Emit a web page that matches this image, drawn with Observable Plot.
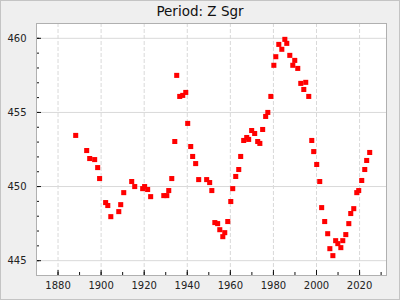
<!DOCTYPE html>
<html><head><meta charset="utf-8">
<script src="https://cdn.jsdelivr.net/npm/d3@7"></script>
<script src="https://cdn.jsdelivr.net/npm/@observablehq/plot@0.6"></script>
<style>
body{margin:0;background:#fff}
#wrap{position:relative;width:400px;height:300px;background:#efefef;font-family:"DejaVu Sans",sans-serif;overflow:hidden}
#wrap::after{content:"";position:absolute;left:0;top:0;right:0;bottom:0;border:1px solid #c4c4c4;pointer-events:none}
#title{position:absolute;top:0;left:0;width:400px;text-align:center;font-size:13.5px;line-height:20px;padding-top:1px;color:#111;z-index:2}
#wrap svg{position:absolute;top:0;left:0}
</style></head><body>
<div id="wrap"><div id="title">Period: Z Sgr</div></div>
<script>
const years = [1888.2,1893.3,1894.7,1897.0,1898.4,1899.3,1902.1,1903.1,1904.5,1908.2,1909.1,1910.5,1914.2,1915.6,1919.3,1920.2,1921.6,1923.0,1929.1,1930.5,1931.4,1932.8,1934.2,1935.1,1936.5,1937.9,1939.3,1940.2,1941.6,1942.5,1943.9,1945.3,1949.0,1950.4,1951.4,1952.8,1954.1,1955.1,1956.5,1957.4,1958.8,1960.2,1961.1,1962.5,1963.9,1964.8,1966.2,1967.6,1968.5,1969.9,1971.3,1972.7,1973.7,1975.0,1976.4,1977.4,1978.8,1980.2,1981.1,1982.5,1983.9,1985.3,1986.2,1987.6,1989.0,1989.9,1991.3,1992.7,1994.1,1995.0,1996.4,1997.8,1998.7,2000.1,2001.5,2002.4,2003.8,2005.2,2006.2,2007.6,2008.9,2009.9,2011.3,2012.2,2013.6,2015.0,2015.9,2017.3,2018.7,2019.6,2021.0,2022.4,2023.3,2024.7];
const periods = [453.45,452.43,451.89,451.82,451.28,450.54,448.92,448.72,447.97,448.31,448.78,449.59,450.34,450.0,449.86,450.0,449.8,449.32,449.39,449.39,449.73,450.54,453.04,457.5,456.08,456.15,456.35,454.26,452.7,452.03,451.55,450.47,450.47,450.27,449.73,447.57,447.5,447.09,446.62,446.89,447.64,448.99,449.86,450.68,451.15,452.03,453.11,453.31,453.18,453.78,453.58,453.04,452.91,453.85,454.73,455.0,456.08,458.18,458.76,459.59,459.26,459.93,459.66,458.85,458.18,458.51,457.97,456.96,456.55,457.03,456.08,453.11,452.36,451.49,450.34,448.58,447.64,446.82,445.81,445.34,446.35,446.15,445.88,446.35,446.76,447.5,448.18,448.51,449.59,449.73,450.41,451.15,451.76,452.3];
const xMajorTicks = [1880,1900,1920,1940,1960,1980,2000,2020];
const xMinorTicks = [1870,1880,1890,1900,1910,1920,1930,1940,1950,1960,1970,1980,1990,2000,2010,2020,2030];
const yMajorTicks = [445,450,455,460];
const yMinorTicks = [444,445,446,447,448,449,450,451,452,453,454,455,456,457,458,459,460,461];

const W = 400, H = 300, mL = 36, mR = 14, mT = 23, mB = 25;
const fw = W - mL - mR, fh = H - mT - mB;
const data = years.map((y, i) => ({year: y, period: periods[i]}));

const chart = Plot.plot({
  width: W, height: H,
  marginLeft: mL, marginRight: mR, marginTop: mT, marginBottom: mB,
  style: {background: "transparent", fontFamily: "DejaVu Sans, sans-serif", fontSize: "10px", color: "#222"},
  x: {domain: [1870, 2032.5]},
  y: {domain: [444, 461]},
  marks: [
    Plot.frame({fill: "white", stroke: null}),
    Plot.gridX(xMajorTicks, {stroke: "#d9d9d9", strokeOpacity: 1, strokeDasharray: "4,2"}),
    Plot.gridY(yMajorTicks, {stroke: "#d9d9d9", strokeOpacity: 1}),
    Plot.tickX(xMinorTicks, {x: d => d, stroke: "#111", insetTop: fh - 3}),
    Plot.tickX(xMajorTicks, {x: d => d, stroke: "#111", insetTop: fh - 5}),
    Plot.tickY(yMinorTicks, {y: d => d, stroke: "#111", insetRight: fw - 3}),
    Plot.tickY(yMajorTicks, {y: d => d, stroke: "#111", insetRight: fw - 5}),
    Plot.axisX(xMajorTicks, {tickSize: 0, tickPadding: 6, label: null, fill: "#222", tickFormat: d => String(d)}),
    Plot.axisY(yMajorTicks, {tickSize: 0, tickPadding: 10, label: null, fill: "#222", tickFormat: d => String(d)}),
    Plot.dot(data, {x: "year", y: "period", symbol: "square", r: 2.85, fill: "#ff0000", stroke: null}),
    Plot.frame({stroke: "#b0b0b0"})
  ]
});
document.getElementById("wrap").appendChild(chart);
</script>
</body></html>
